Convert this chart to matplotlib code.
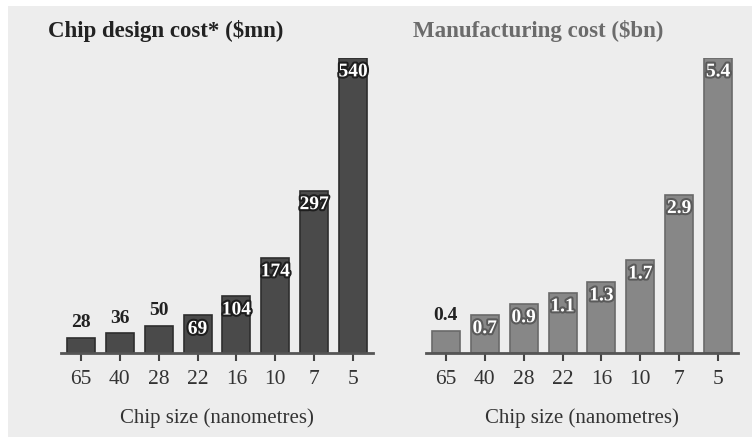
import matplotlib
matplotlib.use("Agg")
import matplotlib.pyplot as plt
import matplotlib.patheffects as pe
from matplotlib.patches import Rectangle

# Chip sizes (nanometres) and costs
chip_sizes = ["65", "40", "28", "22", "16", "10", "7", "5"]
design_cost = [28, 36, 50, 69, 104, 174, 297, 540]          # $mn
manufacturing_cost = [0.4, 0.7, 0.9, 1.1, 1.3, 1.7, 2.9, 5.4]  # $bn
design_labels = ["28", "36", "50", "69", "104", "174", "297", "540"]
manufacturing_labels = ["0.4", "0.7", "0.9", "1.1", "1.3", "1.7", "2.9", "5.4"]

plt.rcParams["font.family"] = ["Liberation Serif", "DejaVu Serif"]

W, H = 752, 437
fig = plt.figure(figsize=(W / 100, H / 100), dpi=100, facecolor="white")
# light grey panel behind everything, thin white strip top and left
fig.patches.append(Rectangle((8 / W, 0), 1 - 8 / W, 1 - 6 / H, transform=fig.transFigure,
                             facecolor="#ededed", edgecolor="none", zorder=-10))


def draw_panel(left_px, values, labels, title, bar_color, edge_color, title_color, stroke_color):
    ax = fig.add_axes([left_px / W, (H - 353) / H, 312 / W, 295 / H])
    ax.set_facecolor("none")
    x = list(range(len(values)))
    bars = ax.bar(x, values, width=0.72, color=bar_color, edgecolor=edge_color, linewidth=1.2)
    ax.set_xlim(-0.51, len(values) - 0.49)
    ax.set_ylim(0, max(values))
    ax.set_xticks(x)
    ax.set_xticklabels(chip_sizes, fontsize=15.5, color="#333333")
    ax.tick_params(axis="x", length=6, width=1.5, color="#444444", pad=6)
    ax.set_yticks([])
    for s in ["top", "right", "left"]:
        ax.spines[s].set_visible(False)
    ax.spines["bottom"].set_color("#555555")
    ax.spines["bottom"].set_linewidth(2)
    ax.spines["bottom"].set_clip_on(False)

    top = max(values)
    for b, v, lab in zip(bars, values, labels):
        cx = b.get_x() + b.get_width() / 2
        if v / top > 0.11:
            ax.annotate(lab, (cx, v), xytext=(0, -10), textcoords="offset points",
                        ha="center", va="center", fontsize=14, fontweight="bold", color="white",
                        path_effects=[pe.withStroke(linewidth=3, foreground=stroke_color)])
        else:
            ax.annotate(lab, (cx, v), xytext=(0, 11), textcoords="offset points",
                        ha="center", va="center", fontsize=14, fontweight="bold", color="#222222")

    ax.set_xlabel("Chip size (nanometres)", fontsize=15, color="#333333", labelpad=14)
    fig.text((left_px - 13) / W, 1 - 31 / H, title, fontsize=16.5, fontweight="bold",
             color=title_color, ha="left", va="center")
    return ax


draw_panel(61, design_cost, design_labels, "Chip design cost* ($mn)",
           "#4a4a4a", "#2e2e2e", "#222222", "#1e1e1e")
draw_panel(426, manufacturing_cost, manufacturing_labels, "Manufacturing cost ($bn)",
           "#878787", "#6a6a6a", "#6b6b6b", "#5a5a5a")

fig.savefig("out.png", dpi=100, facecolor=fig.get_facecolor())
